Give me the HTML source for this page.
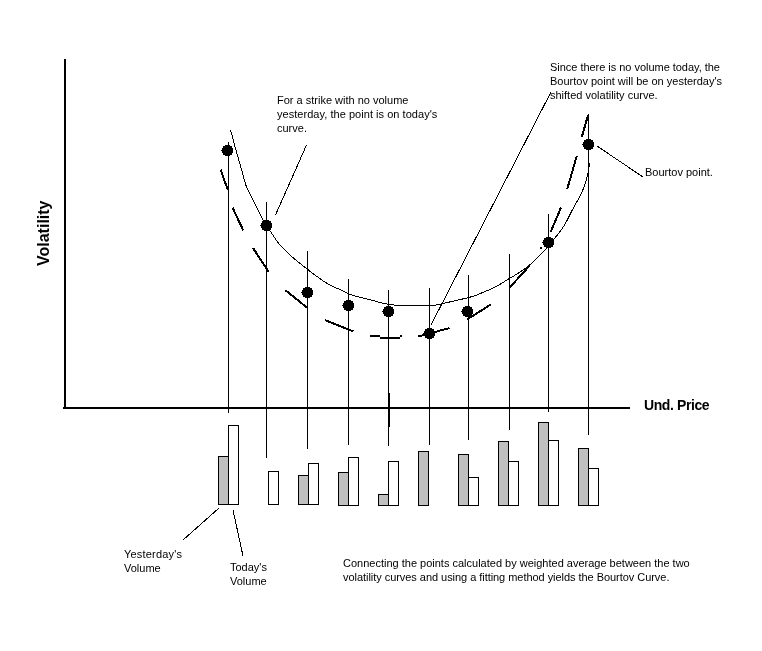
<!DOCTYPE html>
<html><head><meta charset="utf-8">
<style>
html,body{margin:0;padding:0;background:#fff;}
body{width:762px;height:651px;position:relative;overflow:hidden;font-family:"Liberation Sans",sans-serif;color:#000;}
svg{position:absolute;left:0;top:0;}
.t{position:absolute;font-size:11px;line-height:14px;white-space:pre;will-change:transform;}
.b{position:absolute;font-weight:bold;white-space:pre;will-change:transform;}
</style></head><body>
<svg width="762" height="651" viewBox="0 0 762 651" shape-rendering="crispEdges">
<g fill="#000" shape-rendering="crispEdges">
<rect x="64" y="59" width="2" height="350"/>
<rect x="63" y="407" width="567" height="2"/>
<rect x="228" y="142" width="1" height="271"/>
<rect x="266" y="202" width="1" height="256"/>
<rect x="307" y="251" width="1" height="198"/>
<rect x="348" y="279" width="1" height="166"/>
<rect x="388" y="290" width="1" height="156"/>
<rect x="429" y="288" width="1" height="157"/>
<rect x="468" y="275" width="1" height="165"/>
<rect x="509" y="254" width="1" height="176"/>
<rect x="548" y="214" width="1" height="198"/>
<rect x="588" y="114" width="1" height="321"/>
<rect x="388" y="393" width="2" height="34"/>
<rect x="370" y="335" width="10" height="2"/><rect x="380" y="337" width="20" height="2"/><rect x="400" y="335" width="2" height="2"/><rect x="540" y="247" width="2" height="2"/>
</g>
<g stroke="#000" shape-rendering="crispEdges">
<rect x="218.5" y="456.5" width="10" height="48" fill="#c0c0c0"/>
<rect x="228.5" y="425.5" width="10" height="79" fill="#fff"/>
<rect x="268.5" y="471.5" width="10" height="33" fill="#fff"/>
<rect x="298.5" y="475.5" width="10" height="29" fill="#c0c0c0"/>
<rect x="308.5" y="463.5" width="10" height="41" fill="#fff"/>
<rect x="338.5" y="472.5" width="10" height="33" fill="#c0c0c0"/>
<rect x="348.5" y="457.5" width="10" height="48" fill="#fff"/>
<rect x="378.5" y="494.5" width="10" height="11" fill="#c0c0c0"/>
<rect x="388.5" y="461.5" width="10" height="44" fill="#fff"/>
<rect x="418.5" y="451.5" width="10" height="54" fill="#c0c0c0"/>
<rect x="458.5" y="454.5" width="10" height="51" fill="#c0c0c0"/>
<rect x="468.5" y="477.5" width="10" height="28" fill="#fff"/>
<rect x="498.5" y="441.5" width="10" height="64" fill="#c0c0c0"/>
<rect x="508.5" y="461.5" width="10" height="44" fill="#fff"/>
<rect x="538.5" y="422.5" width="10" height="83" fill="#c0c0c0"/>
<rect x="548.5" y="440.5" width="10" height="65" fill="#fff"/>
<rect x="578.5" y="448.5" width="10" height="57" fill="#c0c0c0"/>
<rect x="588.5" y="468.5" width="10" height="37" fill="#fff"/>
</g>
<path d="M230.6,130.0 C231.5,133.4 234.1,143.5 236.0,150.3 C237.9,157.1 240.2,164.7 241.9,170.6 C243.6,176.5 244.4,181.3 246.1,185.8 C247.8,190.3 249.6,192.7 252.0,197.6 C254.4,202.5 258.2,210.8 260.5,215.4 C262.8,220.0 264.2,222.2 266.0,225.0 C267.8,227.8 268.7,229.0 271.0,232.3 C273.3,235.6 276.4,240.7 279.7,244.6 C283.0,248.5 286.1,251.5 290.7,255.6 C295.3,259.7 301.8,264.9 307.3,269.2 C312.8,273.5 319.3,278.3 323.9,281.4 C328.5,284.4 332.2,286.1 335.0,287.5 C337.8,288.9 338.6,288.8 340.9,289.8 C343.2,290.9 346.4,292.8 348.8,293.8 C351.2,294.9 352.6,295.2 355.5,296.1 C358.4,297.0 363.1,298.0 366.5,298.9 C369.9,299.8 373.3,300.6 375.9,301.3 C378.5,302.0 379.8,302.5 382.2,303.0 C384.6,303.5 387.2,304.1 390.0,304.5 C392.8,304.9 394.8,305.3 399.0,305.5 C403.2,305.7 409.7,305.5 415.0,305.5 C420.3,305.5 427.0,305.7 431.0,305.5 C435.0,305.3 436.4,305.0 439.0,304.5 C441.6,304.0 443.6,303.4 446.6,302.7 C449.6,302.0 453.2,301.1 456.8,300.3 C460.4,299.5 464.9,298.5 468.2,297.6 C471.5,296.8 473.8,296.2 476.5,295.2 C479.2,294.2 481.8,292.8 484.4,291.7 C487.0,290.6 489.6,289.8 492.2,288.5 C494.8,287.2 497.8,285.5 500.1,284.2 C502.4,282.9 502.9,282.5 505.8,280.7 C508.7,278.9 513.9,276.0 517.7,273.5 C521.5,271.0 525.7,268.2 528.6,265.9 C531.5,263.6 533.3,261.7 535.4,259.6 C537.5,257.6 539.4,255.5 541.3,253.6 C543.2,251.7 545.0,250.2 546.8,248.2 C548.6,246.2 550.0,243.9 552.0,241.5 C554.0,239.1 556.3,236.4 558.5,233.5 C560.7,230.6 562.5,228.6 565.0,224.2 C567.5,219.8 570.9,212.7 573.7,207.3 C576.5,202.0 579.8,197.1 582.0,192.1 C584.2,187.1 585.8,181.5 587.0,177.3 C588.2,173.1 588.6,169.3 589.0,166.9 C589.4,164.5 589.2,163.7 589.3,163.0" stroke="#000" fill="none" stroke-width="1"/>
<g stroke="#000" stroke-width="1">
<line x1="275.5" y1="215" x2="306.5" y2="145"/>
<line x1="431" y1="325" x2="551" y2="92"/>
<line x1="597" y1="146" x2="643" y2="177"/>
<line x1="183" y1="540" x2="219" y2="508"/>
<line x1="233" y1="510" x2="243" y2="556"/>
</g>
<g stroke="#000" stroke-width="2">
<line x1="220.6" y1="169.7" x2="227.9" y2="190.2"/>
<line x1="232.6" y1="207.8" x2="243.3" y2="230.5"/>
<line x1="253" y1="248" x2="268.7" y2="271.7"/>
<line x1="285.2" y1="290" x2="306.7" y2="307.4"/>
<line x1="325" y1="320" x2="353.3" y2="331.5"/>
<line x1="418.5" y1="336.5" x2="449.5" y2="328"/>
<line x1="467" y1="319.5" x2="491.3" y2="304.2"/>
<line x1="509.4" y1="287.8" x2="529.3" y2="266"/>
<line x1="550.8" y1="231.8" x2="561" y2="207.4"/>
<line x1="567.2" y1="189.2" x2="576.8" y2="155.8"/>
<line x1="581.8" y1="137" x2="588" y2="115.5"/>
</g>
<g fill="#000" shape-rendering="crispEdges">
<path d="M225,145h5v1h2v2h1v5h-1v2h-2v1h-5v-1h-2v-2h-1v-5h1v-2h2z"/><rect x="221" y="150" width="1" height="1"/>
<path d="M264,220h5v1h2v2h1v5h-1v2h-2v1h-5v-1h-2v-2h-1v-5h1v-2h2z"/><rect x="260" y="225" width="1" height="1"/>
<path d="M305,287h5v1h2v2h1v5h-1v2h-2v1h-5v-1h-2v-2h-1v-5h1v-2h2z"/><rect x="301" y="292" width="1" height="1"/>
<path d="M346,300h5v1h2v2h1v5h-1v2h-2v1h-5v-1h-2v-2h-1v-5h1v-2h2z"/><rect x="342" y="305" width="1" height="1"/>
<path d="M386,306h5v1h2v2h1v5h-1v2h-2v1h-5v-1h-2v-2h-1v-5h1v-2h2z"/><rect x="382" y="311" width="1" height="1"/>
<path d="M427,328h5v1h2v2h1v5h-1v2h-2v1h-5v-1h-2v-2h-1v-5h1v-2h2z"/><rect x="423" y="333" width="1" height="1"/>
<path d="M465,306h5v1h2v2h1v5h-1v2h-2v1h-5v-1h-2v-2h-1v-5h1v-2h2z"/><rect x="461" y="311" width="1" height="1"/>
<path d="M546,237h5v1h2v2h1v5h-1v2h-2v1h-5v-1h-2v-2h-1v-5h1v-2h2z"/><rect x="542" y="242" width="1" height="1"/>
<path d="M586,139h5v1h2v2h1v5h-1v2h-2v1h-5v-1h-2v-2h-1v-5h1v-2h2z"/><rect x="582" y="144" width="1" height="1"/>
</g>
</svg>
<div class="b" style="left:644px;top:398px;font-size:14px;line-height:15px;letter-spacing:-0.4px;">Und. Price</div>
<div class="b" style="left:35px;top:266px;font-size:16px;line-height:18px;transform-origin:0 0;transform:rotate(-90deg);">Volatility</div>
<div class="t" style="left:277px;top:93px;">For a strike with no volume
<span style="letter-spacing:0.04px">yesterday, the point is on today's</span>
curve.</div>
<div class="t" style="left:550px;top:60px;"><span style="letter-spacing:-0.03px">Since there is no volume today, the</span>
Bourtov point will be on yesterday's
shifted volatility curve.</div>
<div class="t" style="left:645px;top:165px;">Bourtov point.</div>
<div class="t" style="left:124px;top:547px;"><span style="letter-spacing:0.2px">Yesterday's</span>
Volume</div>
<div class="t" style="left:230px;top:560px;">Today's
Volume</div>
<div class="t" style="left:343px;top:556px;">Connecting the points calculated by weighted average between the two
<span style="letter-spacing:-0.045px">volatility curves and using a fitting method yields the Bourtov Curve.</span></div>
</body></html>
